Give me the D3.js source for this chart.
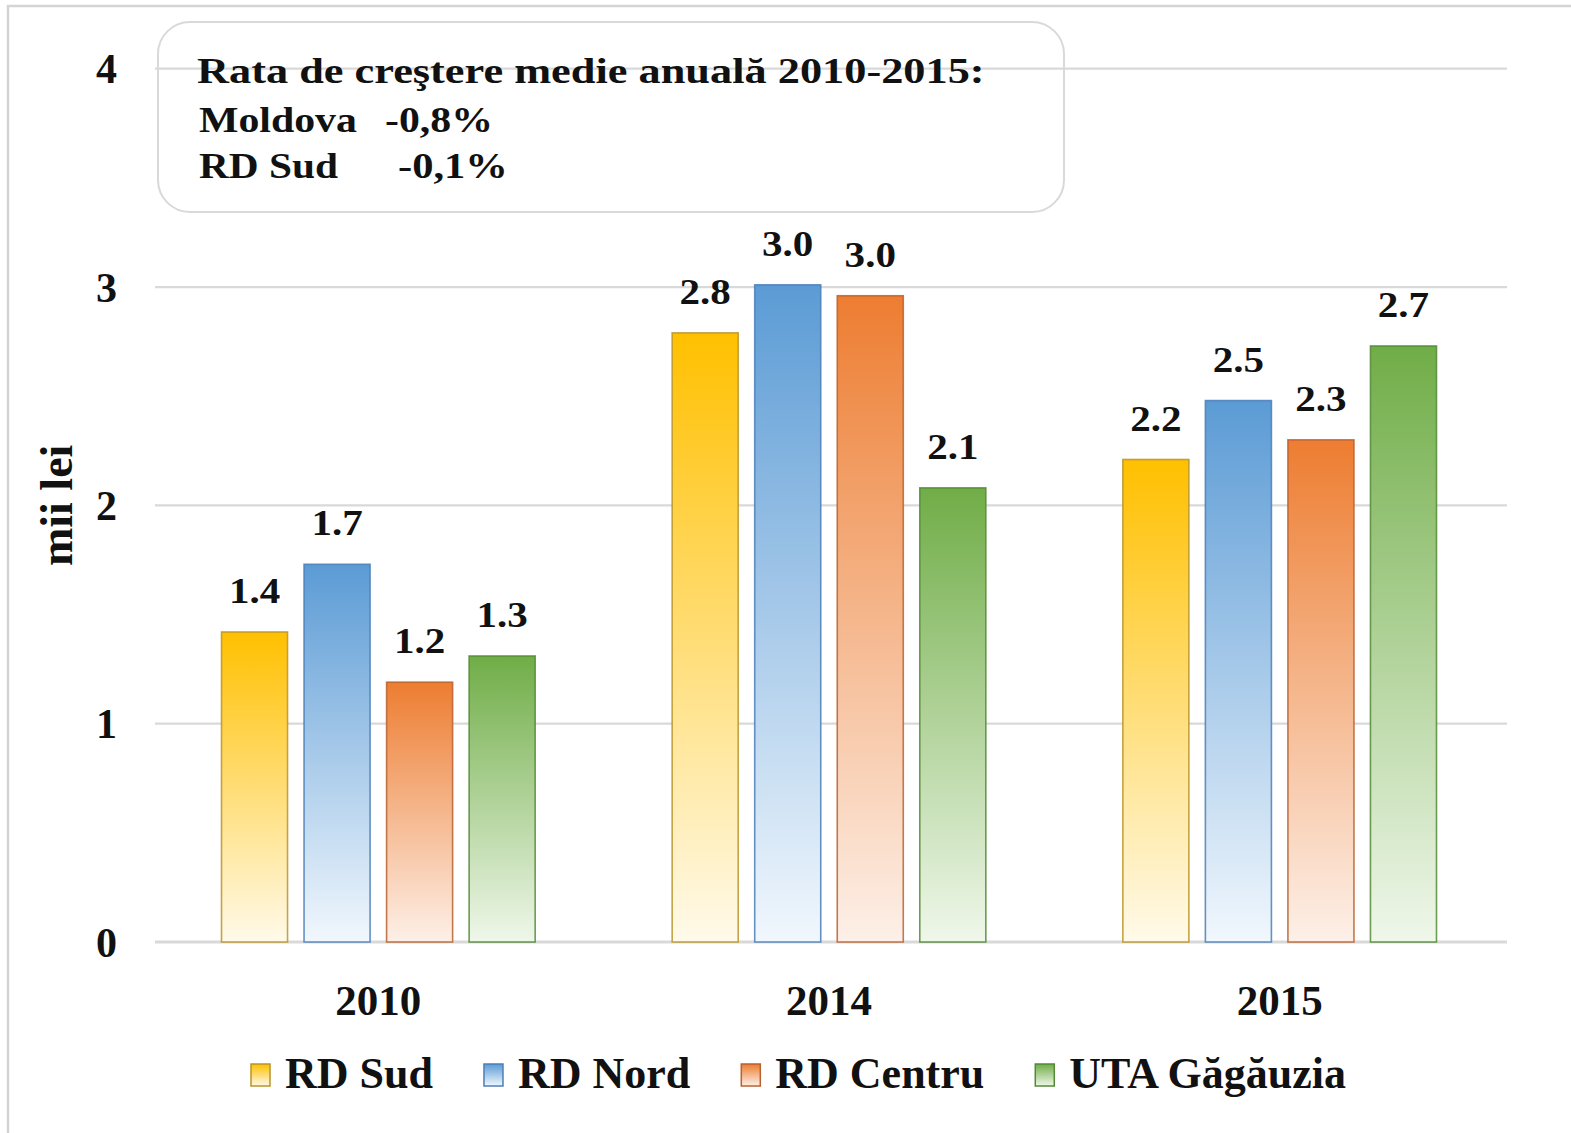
<!DOCTYPE html>
<html>
<head>
<meta charset="utf-8">
<script src="https://cdn.jsdelivr.net/npm/d3@7"></script>
<style>
  html, body { margin: 0; padding: 0; background: #fff; }
  svg text { font-family: "Liberation Serif", "Times New Roman", serif; font-weight: bold; fill: #111; }
</style>
</head>
<body>
<svg id="chart" width="1571" height="1133"></svg>
<script>
// ---- data ----
const years = ["2010", "2014", "2015"];
const seriesNames = ["RD Sud", "RD Nord", "RD Centru", "UTA Găgăuzia"];
const rdSud = [1.42, 2.79, 2.21];
const rdNord = [1.73, 3.01, 2.48];
const rdCentru = [1.19, 2.96, 2.30];
const utaGagauzia = [1.31, 2.08, 2.73];
const yTicks = [0, 1, 2, 3, 4];
const yTitle = "mii lei";
const noteTitle = "Rata de creştere medie anuală 2010-2015:";
const noteRows = [["Moldova", "-0,8%"], ["RD Sud", "-0,1%"]];

const seriesValues = [rdSud, rdNord, rdCentru, utaGagauzia];
const topColors = ["#ffc000", "#5b9bd5", "#ed7d31", "#70ad47"];
const bottomColors = ["#fffaea", "#f1f7fd", "#fdf0e8", "#eff7ea"];
const strokeColors = ["#b8942a", "#4a7fb8", "#b8622e", "#548a35"];

const svg = d3.select("#chart");
const W = 1571, H = 1133;

// image frame (top/left edge lines)
svg.append("path").attr("d", `M8,${H} L8,6 L${W},6`).attr("fill", "none")
  .attr("stroke", "#d4d4d4").attr("stroke-width", 2.5);

// gradients
const defs = svg.append("defs");
seriesNames.forEach((s, i) => {
  const g = defs.append("linearGradient").attr("id", "grad" + i)
    .attr("x1", 0).attr("y1", 0).attr("x2", 0).attr("y2", 1);
  g.append("stop").attr("offset", "0%").attr("stop-color", topColors[i]);
  g.append("stop").attr("offset", "100%").attr("stop-color", bottomColors[i]);
});

// horizontally stretched text helper
function stretchedText(parent, x, yPos, size, txt, opts) {
  const t = parent.append("text").attr("font-size", size).text(txt);
  if (opts.anchor) t.attr("text-anchor", opts.anchor);
  const L = t.node().getComputedTextLength();
  const s = opts.width ? opts.width / L : opts.scale;
  t.attr("transform", `translate(${x},${yPos}) scale(${s},1)`);
  return t;
}

// scales
const x0 = d3.scaleBand().domain(years).range([153, 1505]).padding(0);
const x1 = d3.scaleBand().domain(seriesNames).range([0, x0.bandwidth()])
  .paddingInner(0.2).paddingOuter(0.83);
const y = d3.scaleLinear().domain([0, 4]).range([942, 68.7]);

// gridlines
svg.append("g").selectAll("line").data(yTicks).join("line")
  .attr("x1", 155).attr("x2", 1507)
  .attr("y1", d => y(d)).attr("y2", d => y(d))
  .attr("stroke", "#d9d9d9").attr("stroke-width", d => d === 0 ? 3 : 2.2);

// y tick labels
svg.append("g").selectAll("text").data(yTicks).join("text")
  .attr("x", 117).attr("y", d => y(d) + 14.5)
  .attr("text-anchor", "end").attr("font-size", 42)
  .text(d => d);

// y title
svg.append("text")
  .attr("transform", `translate(72,${y(2)}) rotate(-90)`)
  .attr("text-anchor", "middle").attr("font-size", 46)
  .text(yTitle);

// note box
svg.append("rect").attr("x", 158).attr("y", 22).attr("width", 906).attr("height", 190)
  .attr("rx", 32).attr("ry", 32).attr("fill", "none")
  .attr("stroke", "#d9d9d9").attr("stroke-width", 2);
stretchedText(svg, 197, 83, 36, noteTitle, { width: 788 });
const rowY = [132, 178];
const rowX = [[199, 385], [199, 398]];
const rowLen = [[158, 108], [139, 110]];
noteRows.forEach((r, ri) => {
  r.forEach((t, ci) => {
    stretchedText(svg, rowX[ri][ci], rowY[ri], 36, t, { width: rowLen[ri][ci] });
  });
});

// bars
const fmt = d3.format(".1f");
const groups = svg.append("g").selectAll("g").data(years).join("g")
  .attr("transform", d => `translate(${x0(d)},0)`);
groups.each(function (yr, yi) {
  const g = d3.select(this);
  const recs = seriesNames.map((s, si) => ({ s, si, v: seriesValues[si][yi] }));
  g.selectAll("rect").data(recs).join("rect")
    .attr("x", d => x1(d.s)).attr("width", x1.bandwidth())
    .attr("y", d => y(d.v)).attr("height", d => y(0) - y(d.v))
    .attr("fill", d => `url(#grad${d.si})`)
    .attr("stroke", d => strokeColors[d.si]).attr("stroke-width", 1.6)
    .attr("stroke-opacity", 0.85);
  recs.forEach(d => {
    stretchedText(g, x1(d.s) + x1.bandwidth() / 2, y(d.v) - 29, 36, fmt(d.v),
      { anchor: "middle", scale: 1.14 });
  });
});

// x labels
svg.append("g").selectAll("text").data(years).join("text")
  .attr("x", d => x0(d) + x0.bandwidth() / 2).attr("y", 1015)
  .attr("text-anchor", "middle").attr("font-size", 43)
  .text(d => d);

// legend
let lx = 251;
const leg = svg.append("g");
seriesNames.forEach((s, i) => {
  leg.append("rect").attr("x", lx).attr("y", 1064).attr("width", 19).attr("height", 22)
    .attr("fill", `url(#grad${i})`).attr("stroke", strokeColors[i]).attr("stroke-width", 1.5);
  const t = leg.append("text").attr("x", lx + 34).attr("y", 1088).attr("font-size", 44).text(s);
  const L = t.node().getComputedTextLength();
  lx = lx + 34 + L + 51;
});
</script>
</body>
</html>
